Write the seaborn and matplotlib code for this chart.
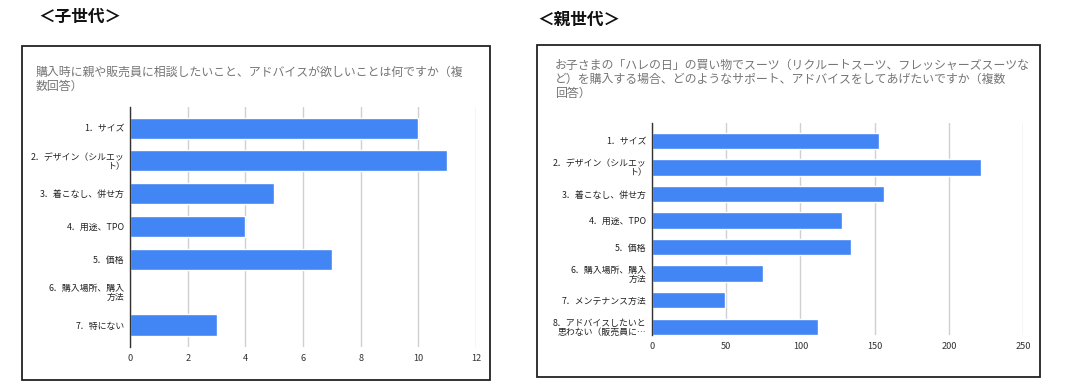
import matplotlib
matplotlib.use("Agg")
import matplotlib.pyplot as plt
import seaborn as sns
import pandas as pd
from matplotlib.patches import Rectangle

sns.set_theme(style="white")
plt.rcParams['font.family'] = ['Noto Sans CJK JP', 'DejaVu Sans']

# ---- data ----
child_title = "＜子世代＞"
child_question = "購入時に親や販売員に相談したいこと、アドバイスが欲しいことは何ですか（複\n数回答）"
child_categories = ["1．サイズ", "2．デザイン（シルエッ\nト）", "3．着こなし、併せ方", "4．用途、TPO",
                    "5．価格", "6．購入場所、購入\n方法", "7．特にない"]
child_values = [10, 11, 5, 4, 7, 0, 3]
child_ticks = [0, 2, 4, 6, 8, 10, 12]

parent_title = "＜親世代＞"
parent_question = ("お子さまの「ハレの日」の買い物でスーツ（リクルートスーツ、フレッシャーズスーツな\n"
                   "ど）を購入する場合、どのようなサポート、アドバイスをしてあげたいですか（複数\n回答）")
parent_categories = ["1．サイズ", "2．デザイン（シルエッ\nト）", "3．着こなし、併せ方", "4．用途、TPO",
                     "5．価格", "6．購入場所、購入\n方法", "7．メンテナンス方法",
                     "8．アドバイスしたいと\n思わない（販売員に…"]
parent_values = [153, 222, 156, 128, 134, 75, 49, 112]
parent_ticks = [0, 50, 100, 150, 200, 250]

W, H = 1089, 383
fig = plt.figure(figsize=(W / 100, H / 100), dpi=100)
fig.patch.set_facecolor("white")

def px_rect(x0, y0, x1, y1):
    return [x0 / W, 1 - y1 / H, (x1 - x0) / W, (y1 - y0) / H]

BAR = "#4285f4"

def draw(ax, cats, vals, ticks, ylim, bar_w):
    df = pd.DataFrame({"cat": cats, "val": vals})
    sns.barplot(data=df, x="val", y="cat", orient="h", color=BAR, width=bar_w,
                saturation=1, ax=ax)
    ax.set_xlim(ticks[0], ticks[-1])
    ax.set_ylim(*ylim)
    ax.set_xticks(ticks)
    ax.set_xlabel("")
    ax.set_ylabel("")
    ax.grid(axis="x", color="#d0d0d0", linewidth=1)
    ax.set_axisbelow(True)
    for s in ["top", "right", "bottom"]:
        ax.spines[s].set_visible(False)
    ax.spines["left"].set_color("#333333")
    ax.spines["left"].set_linewidth(1)
    ax.tick_params(axis="y", length=0, labelsize=6.4, colors="#222222", pad=4)
    ax.tick_params(axis="x", length=0, labelsize=6.6, colors="#333333", pad=5)
    for lab in ax.get_yticklabels():
        lab.set_multialignment("right")
        lab.set_linespacing(1.0)

# left panel
fig.patches.append(Rectangle((22 / W, 1 - 380 / H), 468 / W, 334 / H, transform=fig.transFigure,
                             fill=False, edgecolor="#222222", linewidth=1.3))
fig.text(38 / W, 1 - 17 / H, child_title, fontsize=12, fontweight="bold", va="center", ha="left", color="#111111")
fig.text(36 / W, 1 - 66 / H, child_question, fontsize=8.6, va="top", ha="left", color="#757575", linespacing=1.1)
ax1 = fig.add_axes(px_rect(130, 107, 476, 347))
draw(ax1, child_categories, child_values, child_ticks, (6.67, -0.64), 0.64)

# right panel
fig.patches.append(Rectangle((537 / W, 1 - 377 / H), 503 / W, 332 / H, transform=fig.transFigure,
                             fill=False, edgecolor="#222222", linewidth=1.3))
fig.text(537 / W, 1 - 20 / H, parent_title, fontsize=12, fontweight="bold", va="center", ha="left", color="#111111")
fig.text(555 / W, 1 - 59 / H, parent_question, fontsize=8.6, va="top", ha="left", color="#757575", linespacing=1.1)
ax2 = fig.add_axes(px_rect(652, 123, 1023, 335))
draw(ax2, parent_categories, parent_values, parent_ticks, (7.31, -0.67), 0.62)

fig.savefig("out.png", dpi=100, facecolor="white")
